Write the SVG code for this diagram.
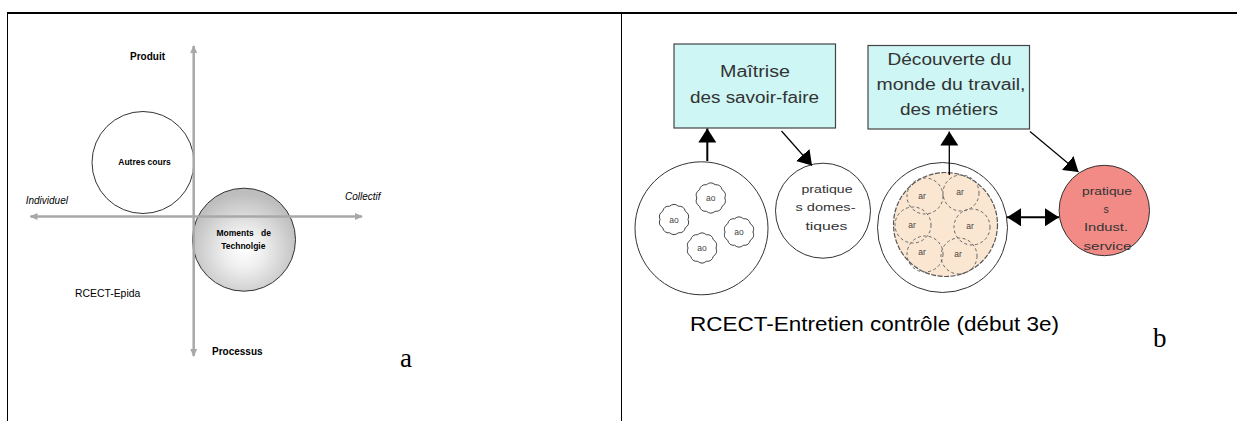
<svg xmlns="http://www.w3.org/2000/svg" xmlns:xlink="http://www.w3.org/1999/xlink" width="1237" height="421" viewBox="0 0 1237 421">
<style>
  .frame{stroke:#000;fill:none}
  .axis{stroke:#a8a8a8;stroke-width:2.5;fill:none}
  .lbl{font-family:"Liberation Sans",Arial,sans-serif;fill:#000}
  .b{font-weight:bold}
  .it{font-style:italic}
  .box{fill:#cdf6f4;stroke:#444;stroke-width:1.2}
  .boxt{font-family:"Liberation Sans",Arial,sans-serif;font-size:16px;fill:#333;text-anchor:middle}
  .sm{font-family:"Liberation Sans",Arial,sans-serif;font-size:10.5px;fill:#333;text-anchor:middle}
  .tiny{font-family:"Liberation Sans",Arial,sans-serif;font-size:8.5px;fill:#444;text-anchor:middle}
  .conn{stroke:#000;fill:none}
  .big{font-family:"Liberation Serif","Times New Roman",serif;font-size:27px;fill:#000}
</style>
<defs>
  <marker id="ga" viewBox="0 0 8 8" refX="7" refY="4" markerWidth="8" markerHeight="8" markerUnits="userSpaceOnUse" orient="auto-start-reverse">
    <path d="M0,0.5 L8,4 L0,7.5 z" fill="#a8a8a8"/>
  </marker>
  <marker id="ba" viewBox="0 0 14 18" refX="14" refY="9" markerWidth="14" markerHeight="18" markerUnits="userSpaceOnUse" orient="auto-start-reverse">
    <path d="M0,0 L14,9 L0,18 z" fill="#000"/>
  </marker>
  <radialGradient id="gg" cx="0.5" cy="0.6" r="0.55">
    <stop offset="0" stop-color="#ffffff"/>
    <stop offset="0.35" stop-color="#eeeeee"/>
    <stop offset="1" stop-color="#bdbdbd"/>
  </radialGradient>
  <path id="scal" d="M14,0 Q16.17,5.25 11.33,8.23 Q9.99,13.75 4.33,13.31 Q0,17 -4.33,13.31 Q-9.99,13.75 -11.33,8.23 Q-16.17,5.25 -14,0 Q-16.17,-5.25 -11.33,-8.23 Q-9.99,-13.75 -4.33,-13.31 Q0,-17 4.33,-13.31 Q9.99,-13.75 11.33,-8.23 Q16.17,-5.25 14,0 Z" fill="#fff" stroke="#444" stroke-width="1"/>
</defs>

<g id="frame">
  <line class="frame" x1="7" y1="13" x2="1237" y2="13" stroke-width="2"/>
  <line class="frame" x1="7.5" y1="13" x2="7.5" y2="421" stroke-width="1"/>
  <line class="frame" x1="621.5" y1="13" x2="621.5" y2="421" stroke-width="1"/>
</g>

<!-- Panel a -->
<g id="autres-cours">
  <circle cx="143" cy="162.5" r="51" fill="#fff" stroke="#333" stroke-width="1"/>
  <text class="lbl b" x="144.5" y="165" font-size="8.5" text-anchor="middle">Autres cours</text>
</g>
<g id="moments">
  <circle cx="244" cy="239.7" r="51.5" fill="url(#gg)" stroke="#333" stroke-width="1"/>
  <text class="lbl b" x="243.7" y="236" font-size="8.5" text-anchor="middle" word-spacing="5">Moments de</text>
  <text class="lbl b" x="243.3" y="248.5" font-size="8.5" text-anchor="middle">Technolgie</text>
</g>
<g id="axes">
  <line class="axis" x1="193.7" y1="46" x2="193.7" y2="356" marker-start="url(#ga)" marker-end="url(#ga)"/>
  <line class="axis" x1="30.5" y1="216.5" x2="362" y2="216.5" marker-start="url(#ga)" marker-end="url(#ga)"/>
</g>
<g id="labels-a">
  <text class="lbl b" x="130" y="60" font-size="10">Produit</text>
  <text class="lbl it" x="25.7" y="204" font-size="10">Individuel</text>
  <text class="lbl it" x="345" y="200" font-size="10">Collectif</text>
  <text class="lbl" x="75" y="297" font-size="10.4">RCECT-Epida</text>
  <text class="lbl b" x="212" y="355" font-size="10">Processus</text>
  <text class="big" x="400" y="367">a</text>
</g>

<!-- Panel b -->
<g id="box-maitrise">
  <rect class="box" x="674" y="44" width="161.5" height="84"/>
  <text class="boxt" x="755" y="77" textLength="70" lengthAdjust="spacingAndGlyphs">Maîtrise</text>
  <text class="boxt" x="754.5" y="103" textLength="129" lengthAdjust="spacingAndGlyphs">des savoir-faire</text>
</g>
<g id="box-decouverte">
  <rect class="box" x="868" y="45.5" width="161.5" height="83.5"/>
  <text class="boxt" x="949.5" y="65" textLength="124" lengthAdjust="spacingAndGlyphs">Découverte du</text>
  <text class="boxt" x="951" y="90" textLength="149" lengthAdjust="spacingAndGlyphs">monde du travail,</text>
  <text class="boxt" x="949" y="115" textLength="98" lengthAdjust="spacingAndGlyphs">des métiers</text>
</g>
<g id="circle-ao">
  <circle cx="701.5" cy="228.3" r="66.5" fill="#fff" stroke="#333" stroke-width="1"/>
  <use xlink:href="#scal" x="710.8" y="198"/>
  <use xlink:href="#scal" x="674" y="219.5"/>
  <use xlink:href="#scal" x="739" y="232"/>
  <use xlink:href="#scal" x="702" y="248"/>
  <text class="tiny" x="710.8" y="201">ao</text>
  <text class="tiny" x="674" y="222.5">ao</text>
  <text class="tiny" x="739" y="235">ao</text>
  <text class="tiny" x="702" y="251">ao</text>
</g>
<g id="circle-domestiques">
  <circle cx="823" cy="210.7" r="47.5" fill="#fff" stroke="#333" stroke-width="1"/>
  <text class="sm" x="827" y="193" textLength="51" lengthAdjust="spacingAndGlyphs">pratique</text>
  <text class="sm" x="825.5" y="211" textLength="60" lengthAdjust="spacingAndGlyphs">s domes-</text>
  <text class="sm" x="826.5" y="230" textLength="42" lengthAdjust="spacingAndGlyphs">tiques</text>
</g>
<g id="circle-ar">
  <circle cx="942.5" cy="227.5" r="65" fill="#fff" stroke="#333" stroke-width="1"/>
  <circle cx="945.5" cy="224.5" r="52" fill="#fbe6d2" stroke="#555" stroke-width="1.2" stroke-dasharray="5 1.5"/>
  <g fill="none" stroke="#666" stroke-width="1" stroke-dasharray="3 2.5">
    <circle cx="925" cy="196" r="18"/>
    <circle cx="961" cy="193" r="18"/>
    <circle cx="913" cy="225" r="18"/>
    <circle cx="972" cy="227" r="18"/>
    <circle cx="925" cy="254" r="18"/>
    <circle cx="959" cy="256" r="18"/>
  </g>
  <text class="tiny" x="922" y="199">ar</text>
  <text class="tiny" x="960" y="195">ar</text>
  <text class="tiny" x="912" y="228">ar</text>
  <text class="tiny" x="970" y="229">ar</text>
  <text class="tiny" x="922" y="255">ar</text>
  <text class="tiny" x="958" y="257">ar</text>
</g>
<g id="circle-industrie">
  <circle cx="1104.3" cy="210.5" r="45.2" fill="#f28b86" stroke="#333" stroke-width="1"/>
  <text class="sm" x="1107" y="195" textLength="50" lengthAdjust="spacingAndGlyphs">pratique</text>
  <text class="sm" x="1106" y="213">s</text>
  <text class="sm" x="1106" y="231" textLength="44" lengthAdjust="spacingAndGlyphs">Indust.</text>
  <text class="sm" x="1107.5" y="250" textLength="48" lengthAdjust="spacingAndGlyphs">service</text>
</g>
<g id="connectors">
  <line class="conn" x1="707.3" y1="161" x2="707.3" y2="128.5" stroke-width="2" marker-end="url(#ba)"/>
  <line class="conn" x1="781.5" y1="131" x2="812" y2="165.5" stroke-width="1.2" marker-end="url(#ba)"/>
  <line class="conn" x1="949.3" y1="175" x2="949.3" y2="131.5" stroke-width="1.3" marker-end="url(#ba)"/>
  <line class="conn" x1="1030" y1="131.5" x2="1078.5" y2="172" stroke-width="1.2" marker-end="url(#ba)"/>
  <line class="conn" x1="1007" y1="217.3" x2="1059" y2="217.3" stroke-width="2" marker-start="url(#ba)" marker-end="url(#ba)"/>
</g>
<g id="labels-b">
  <text class="lbl" x="690" y="331" font-size="19.5" fill="#222" textLength="369" lengthAdjust="spacingAndGlyphs">RCECT-Entretien contrôle (début 3e)</text>
  <text class="big" x="1153" y="347">b</text>
</g>
</svg>
